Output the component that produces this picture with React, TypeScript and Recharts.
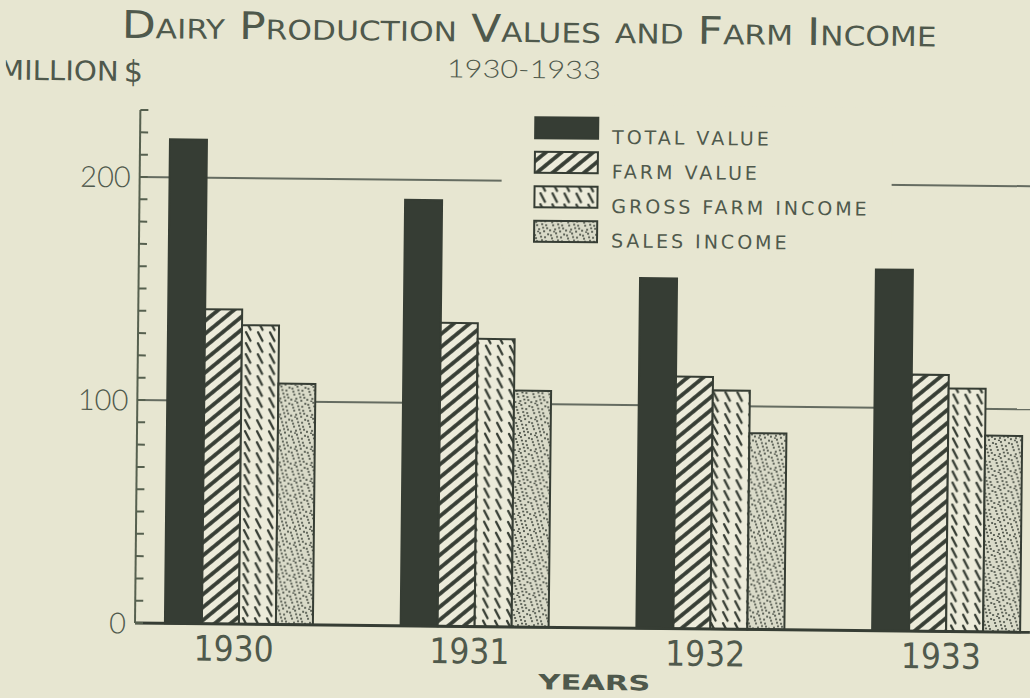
import React from "react";
import { Bar, BarChart, CartesianGrid, Legend, XAxis, YAxis } from "recharts";

const YEARS = ["1930", "1931", "1932", "1933"];
const TOTAL_VALUE = [217, 191, 157, 162];
const FARM_VALUE = [141, 136, 113, 115];
const GROSS_FARM_INCOME = [134, 129, 107, 109];
const SALES_INCOME = [108, 106, 88, 88];

const SERIES_NAMES = ["TOTAL VALUE", "FARM VALUE", "GROSS FARM INCOME", "SALES INCOME"];
const Y_TICKS = [0, 10, 20, 30, 40, 50, 60, 70, 80, 90, 100, 110, 120, 130, 140, 150, 160, 170, 180, 190, 200, 210, 220, 230];
const Y_LABELS = [0, 100, 200];
const GRID_VALUES = [100, 200];

const data = YEARS.map((year, i) => ({
  year,
  total: TOTAL_VALUE[i],
  farm: FARM_VALUE[i],
  gross: GROSS_FARM_INCOME[i],
  sales: SALES_INCOME[i],
}));

// scanned-paper palette
const BG = "#e7e6d1";
const PAPER = "#ecebda";
const INK = "#363d34";
const AXIS = "#56604f";
const TEXT = "#4f594c";
const GRID = "#656c61";

// fixed dot layout for the stipple fill
const STIPPLE_DOTS = [
  [2, 3], [7, 1], [12, 5], [4, 9], [9, 8], [14, 12], [1, 14], [6, 13],
  [11, 15], [15, 2], [8, 4.5], [3, 6], [13, 9], [10, 11.5], [5, 15.5],
];

const FONT_THIN = "Lato, 'DejaVu Sans', sans-serif";
const FONT_WIDE = "'DejaVu Sans', sans-serif";
const FONT_NARROW = "'Liberation Sans Narrow', 'DejaVu Sans Condensed', sans-serif";

const MARGIN_LEFT = 75;
const Y_AXIS_WIDTH = 60;
const AXIS_X = MARGIN_LEFT + Y_AXIS_WIDTH; // where the y axis line is drawn

// minor ticks point inward, only 0/100/200 get a label
function YTick({ y, payload }: any) {
  const v = payload.value;
  return (
    <g>
      <line x1={AXIS_X} x2={AXIS_X + 8} y1={y} y2={y} stroke={AXIS} strokeWidth={2} />
      {Y_LABELS.includes(v) && (
        <text
          x={AXIS_X - 9}
          y={y}
          dy="0.36em"
          textAnchor="end"
          fontFamily={FONT_THIN}
          fontWeight={300}
          fontSize={29}
          fill={TEXT}
        >
          {v}
        </text>
      )}
    </g>
  );
}

function XTick({ x, y, payload }: any) {
  return (
    <text
      x={x - 6}
      y={y + 36}
      textAnchor="middle"
      fontFamily={FONT_NARROW}
      fontWeight={300}
      fontSize={35}
      fill={TEXT}
    >
      {payload.value}
    </text>
  );
}

function LegendBox({ payload }: any) {
  const items = (payload ?? [])
    .slice()
    .sort((a: any, b: any) => SERIES_NAMES.indexOf(a.value) - SERIES_NAMES.indexOf(b.value));
  return (
    <svg width={390} height={155} style={{ display: "block" }}>
      {items.map((entry: any, i: number) => {
        const top = 13 + i * 34.5;
        return (
          <g key={entry.value}>
            <rect x={33} y={top} width={63} height={21} fill={entry.color} stroke={INK} strokeWidth={2} />
            <text
              x={110}
              y={top + 26}
              fontFamily={FONT_WIDE}
              fontSize={19}
              letterSpacing={3}
              fill={TEXT}
            >
              {entry.value}
            </text>
          </g>
        );
      })}
    </svg>
  );
}

export default function App() {
  return (
    <div
      style={{
        position: "absolute",
        left: 0,
        top: 0,
        width: 1030,
        height: 698,
        overflow: "hidden",
        background: BG,
      }}
    >
      {/* the scan is tilted slightly clockwise */}
      <div
        style={{
          position: "absolute",
          left: 0,
          top: 0,
          width: 1030,
          height: 698,
          transform: "rotate(0.6deg)",
          transformOrigin: "135px 623px",
        }}
      >
        <svg width={1030} height={698} style={{ position: "absolute", left: 0, top: 0 }}>
          <text
            x={523}
            y={38}
            textAnchor="middle"
            textLength={815}
            lengthAdjust="spacingAndGlyphs"
            fontFamily={FONT_WIDE}
            fontSize={38}
            style={{ fontVariant: "small-caps" }}
            fill={TEXT}
          >
            Dairy Production Values and Farm Income
          </text>
          <text
            x={518}
            y={74}
            textAnchor="middle"
            textLength={154}
            lengthAdjust="spacingAndGlyphs"
            fontFamily={FONT_THIN}
            fontWeight={300}
            fontSize={25}
            fill={TEXT}
          >
            1930-1933
          </text>
          <text
            x={-7}
            y={81}
            textLength={120}
            lengthAdjust="spacingAndGlyphs"
            fontFamily={FONT_NARROW}
            fontSize={27}
            fill={TEXT}
          >
            MILLION
          </text>
          <text x={118} y={82} fontFamily={FONT_WIDE} fontSize={30} fill={TEXT}>
            $
          </text>
          <text
            x={595}
            y={685}
            textAnchor="middle"
            textLength={112}
            lengthAdjust="spacingAndGlyphs"
            fontFamily={FONT_WIDE}
            fontWeight="bold"
            fontSize={21}
            fill={TEXT}
          >
            YEARS
          </text>
        </svg>
        <div style={{ position: "absolute", left: 0, top: 0 }}>
          <BarChart
            width={1030}
            height={698}
            data={data}
            margin={{ top: 110, right: 0, bottom: 35, left: MARGIN_LEFT }}
            barCategoryGap="18.2%"
            barGap={0}
          >
            <defs>
              <pattern id="farmHatch" patternUnits="userSpaceOnUse" width={10} height={10} patternTransform="rotate(-40)">
                <rect width={10} height={10} fill={PAPER} />
                <line x1={0} y1={5} x2={10} y2={5} stroke={INK} strokeWidth={3.8} />
              </pattern>
              <pattern id="grossDash" patternUnits="userSpaceOnUse" width={12} height={11}>
                <rect width={12} height={11} fill={PAPER} />
                <line x1={3} y1={1} x2={7.5} y2={9.5} stroke={INK} strokeWidth={2.3} strokeLinecap="round" />
              </pattern>
              <pattern id="salesStipple" patternUnits="userSpaceOnUse" width={16} height={16}>
                <rect width={16} height={16} fill="#d9dac8" />
                {STIPPLE_DOTS.map(([cx, cy], i) => (
                  <circle key={i} cx={cx} cy={cy} r={1.05} fill={INK} opacity={0.9} />
                ))}
              </pattern>
            </defs>
            <CartesianGrid
              horizontal
              vertical={false}
              horizontalValues={GRID_VALUES}
              stroke={GRID}
              strokeWidth={2}
            />
            <XAxis
              dataKey="year"
              height={40}
              padding={{ left: -13, right: -35 }}
              tickLine={false}
              tickSize={1}
              tickMargin={0}
              axisLine={{ stroke: INK, strokeWidth: 3 }}
              tick={<XTick />}
            />
            <YAxis
              width={Y_AXIS_WIDTH}
              domain={[0, 230]}
              ticks={Y_TICKS}
              interval={0}
              tickLine={false}
              axisLine={{ stroke: AXIS, strokeWidth: 2 }}
              tick={<YTick />}
            />
            <Legend
              layout="horizontal"
              verticalAlign="middle"
              align="center"
              content={<LegendBox />}
              wrapperStyle={{ left: 497, top: 100, width: 390, height: 155, background: BG }}
            />
            <Bar dataKey="total" name={SERIES_NAMES[0]} fill={INK} stroke={INK} strokeWidth={2} isAnimationActive={false} />
            <Bar dataKey="farm" name={SERIES_NAMES[1]} fill="url(#farmHatch)" stroke={INK} strokeWidth={2} isAnimationActive={false} />
            <Bar dataKey="gross" name={SERIES_NAMES[2]} fill="url(#grossDash)" stroke={INK} strokeWidth={2} isAnimationActive={false} />
            <Bar dataKey="sales" name={SERIES_NAMES[3]} fill="url(#salesStipple)" stroke={INK} strokeWidth={2} isAnimationActive={false} />
          </BarChart>
        </div>
      </div>
    </div>
  );
}
